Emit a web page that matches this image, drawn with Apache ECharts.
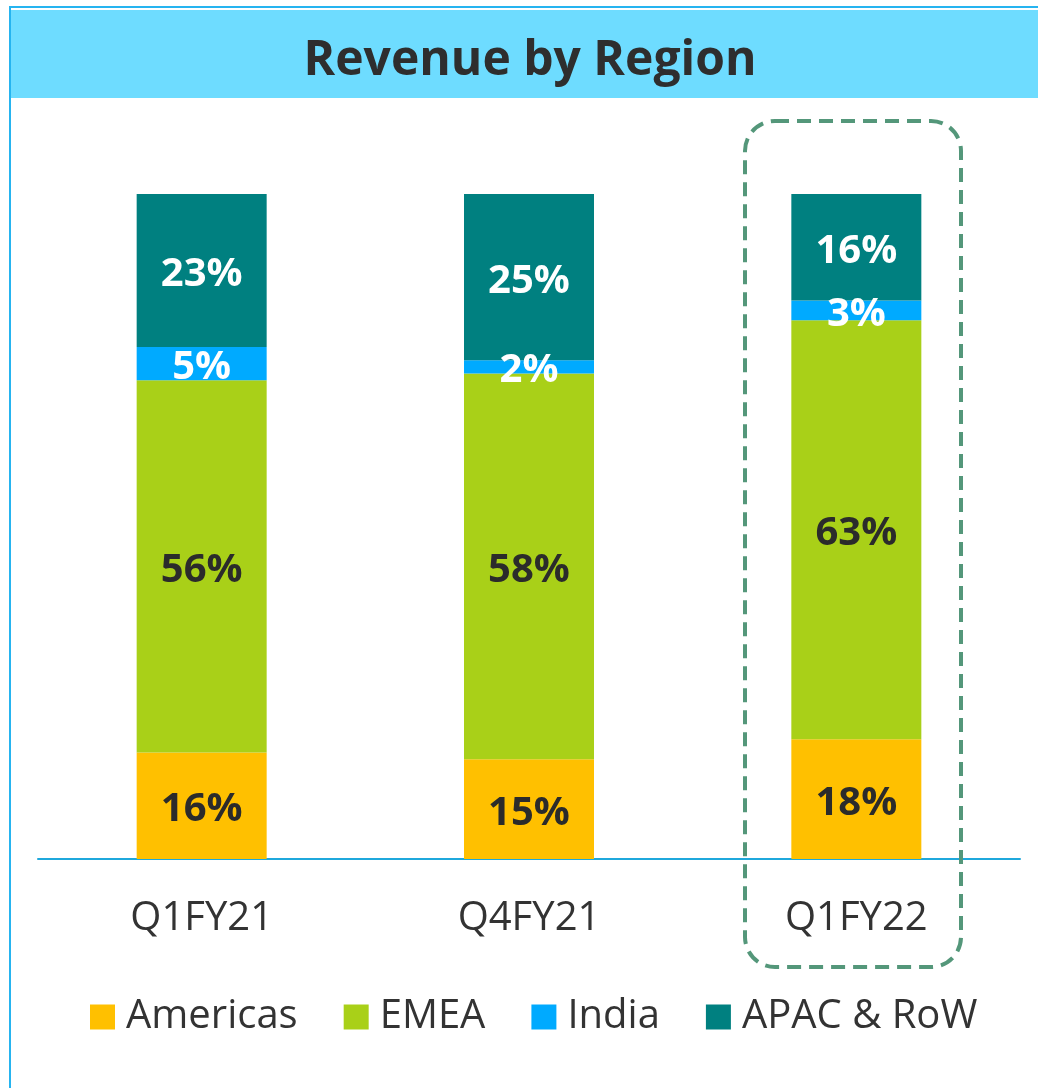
<!DOCTYPE html>
<html>
<head>
<meta charset="utf-8">
<title>Revenue by Region</title>
<script src="https://cdn.jsdelivr.net/npm/echarts@6/dist/echarts.min.js"></script>
<style>
  html, body { margin: 0; padding: 0; background: #fff; }
  #chart { width: 1038px; height: 1088px; }
</style>
</head>
<body>
<div id="chart"></div>
<script>
// quarters on the x axis
const quarters = ['Q1FY21', 'Q4FY21', 'Q1FY22'];
// share of revenue, % per region
const americas = [16, 15, 18];
const emea = [56, 58, 63];
const india = [5, 2, 3];
const apacRow = [23, 25, 16];

const regionNames = ['Americas', 'EMEA', 'India', 'APAC & RoW'];
const regionColors = ['#FFC000', '#A9D018', '#00AAFF', '#008080'];
const labelColors = ['#2b2b2b', '#2b2b2b', '#ffffff', '#ffffff'];

const chart = echarts.init(document.getElementById('chart'));

function makeSeries(name, values, idx) {
  return {
    name: name,
    type: 'bar',
    stack: 'total',
    barWidth: 130,
    data: values,
    itemStyle: { color: regionColors[idx] },
    label: {
      show: true,
      position: 'inside',
      offset: [0, 4],
      formatter: '{c}%',
      color: labelColors[idx],
      fontFamily: 'Open Sans',
      fontWeight: 'bold',
      fontSize: 40
    },
    emphasis: { disabled: true }
  };
}

const option = {
  backgroundColor: '#ffffff',
  animation: false,
  title: {
    text: 'Revenue by Region',
    left: 525,
    top: 32,
    textAlign: 'center',
    textStyle: {
      fontFamily: 'Open Sans',
      fontWeight: 'bold',
      fontSize: 48,
      color: '#2e2e2e'
    }
  },
  legend: {
    data: regionNames,
    left: 85,
    top: 992,
    icon: 'rect',
    itemWidth: 25,
    itemHeight: 25,
    itemGap: 46,
    textStyle: {
      fontFamily: 'Open Sans',
      fontSize: 40,
      color: '#333333',
      padding: [0, 0, 0, 6]
    }
  },
  grid: {
    left: 38,
    right: 18,
    top: 194,
    bottom: 229
  },
  xAxis: {
    type: 'category',
    data: quarters,
    axisLine: { lineStyle: { color: '#1FA8DC', width: 2 } },
    axisTick: { show: false },
    axisLabel: {
      margin: 40,
      fontFamily: 'Open Sans',
      fontSize: 40,
      color: '#333333'
    }
  },
  yAxis: {
    type: 'value',
    min: 0,
    max: 100,
    show: false
  },
  graphic: [
    // banner behind the title
    {
      type: 'rect',
      z: -10,
      shape: { x: 10, y: 10, width: 1028, height: 88 },
      style: { fill: '#6EDCFF' }
    },
    // thin frame lines, top and left
    {
      type: 'rect',
      z: -10,
      shape: { x: 10, y: 6, width: 1028, height: 2 },
      style: { fill: '#26B4F0' }
    },
    {
      type: 'rect',
      z: -10,
      shape: { x: 9, y: 6, width: 2, height: 1082 },
      style: { fill: '#26B4F0' }
    },
    // dashed highlight round the latest quarter
    {
      type: 'rect',
      z: 10,
      shape: { x: 745, y: 121, width: 216, height: 846, r: 30 },
      style: {
        fill: 'none',
        stroke: '#54977A',
        lineWidth: 4,
        lineDash: [14, 8]
      }
    }
  ],
  series: [
    makeSeries(regionNames[0], americas, 0),
    makeSeries(regionNames[1], emea, 1),
    makeSeries(regionNames[2], india, 2),
    makeSeries(regionNames[3], apacRow, 3)
  ]
};

chart.setOption(option);
</script>
</body>
</html>
